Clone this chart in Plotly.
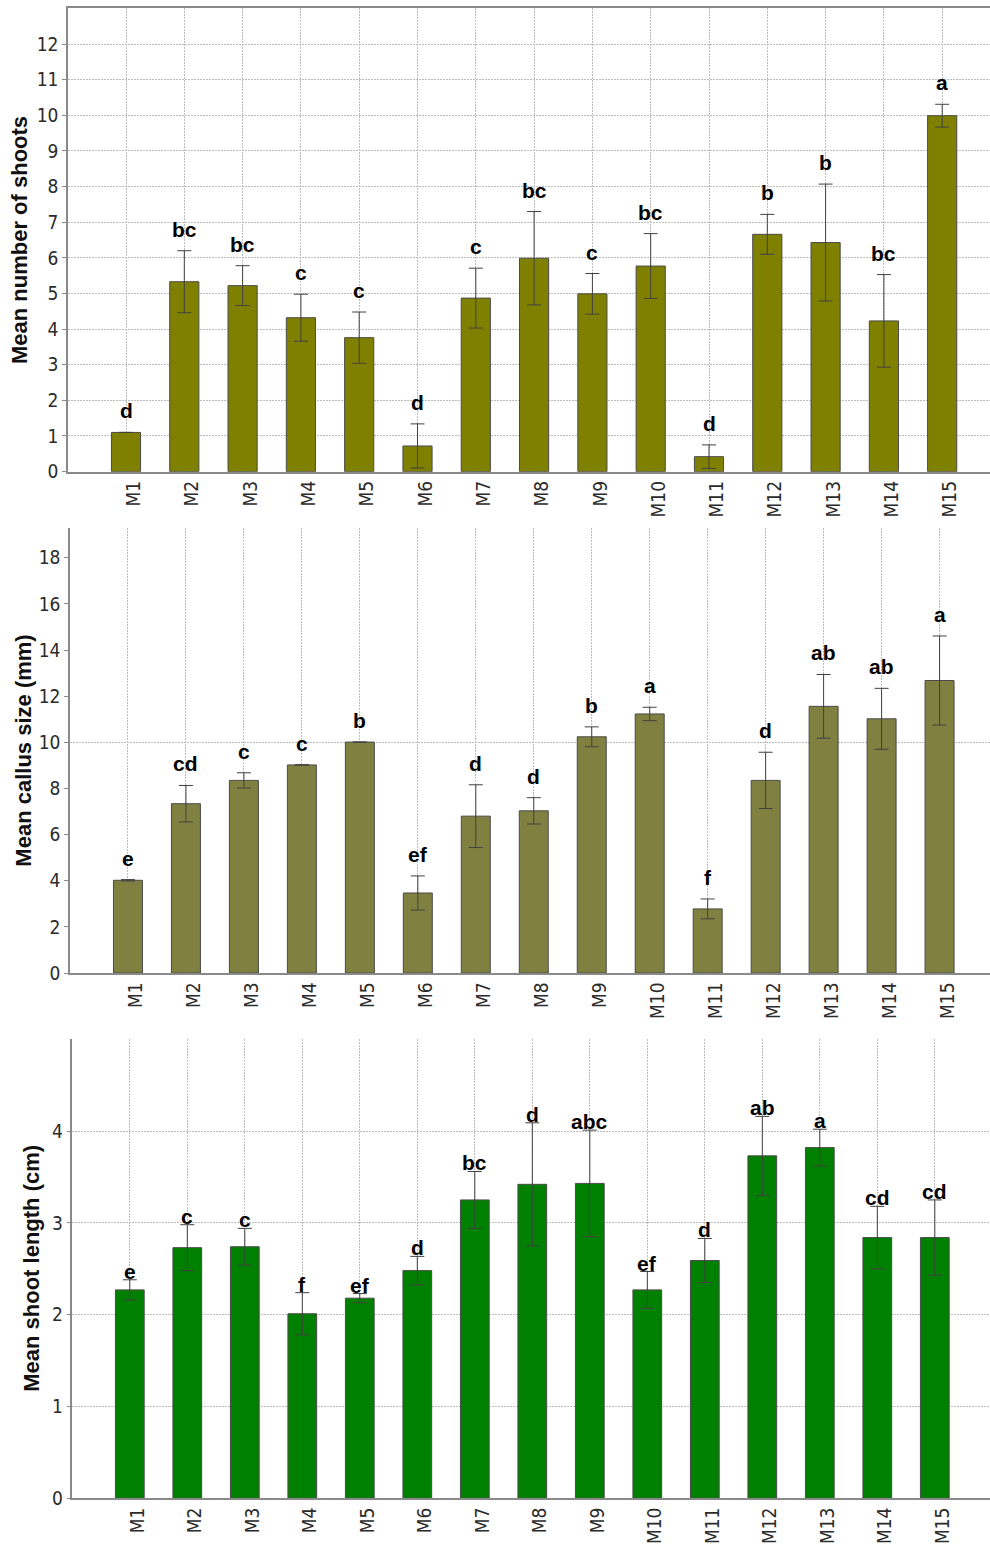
import plotly.graph_objects as go

# Treatments
categories = ["M1", "M2", "M3", "M4", "M5", "M6", "M7", "M8",
              "M9", "M10", "M11", "M12", "M13", "M14", "M15"]

# Mean number of shoots (± error) with significance letters
shoots_mean = [1.10, 5.33, 5.22, 4.32, 3.76, 0.72, 4.87, 5.99,
               4.99, 5.77, 0.42, 6.66, 6.43, 4.23, 9.99]
shoots_err = [0.00, 0.87, 0.56, 0.66, 0.72, 0.62, 0.84, 1.31,
              0.57, 0.91, 0.33, 0.56, 1.64, 1.30, 0.32]
shoots_letters = ["d", "bc", "bc", "c", "c", "d", "c", "bc",
                  "c", "bc", "d", "b", "b", "bc", "a"]

# Mean callus size in mm
callus_mean = [4.02, 7.34, 8.35, 9.02, 10.01, 3.47, 6.80, 7.03,
               10.24, 11.23, 2.78, 8.35, 11.56, 11.02, 12.68]
callus_err = [0.03, 0.79, 0.33, 0.00, 0.00, 0.74, 1.36, 0.57,
              0.43, 0.29, 0.43, 1.22, 1.38, 1.32, 1.93]
callus_letters = ["e", "cd", "c", "c", "b", "ef", "d", "d",
                  "b", "a", "f", "d", "ab", "ab", "a"]

# Mean shoot length in cm
length_mean = [2.27, 2.73, 2.74, 2.01, 2.18, 2.48, 3.25, 3.42,
               3.43, 2.27, 2.59, 3.73, 3.82, 2.84, 2.84]
length_err = [0.11, 0.25, 0.20, 0.23, 0.05, 0.155, 0.31, 0.67,
              0.58, 0.20, 0.24, 0.43, 0.20, 0.34, 0.41]
length_letters = ["e", "c", "c", "f", "ef", "d", "bc", "d",
                  "abc", "ef", "d", "ab", "a", "cd", "cd"]

W, H = 990, 1549

panels = [
    dict(mean=shoots_mean, err=shoots_err, letters=shoots_letters,
         color="#808000", title="Mean number of shoots",
         left=68, top=8.5, bottom=475, xrange=[-0.995, 14.82],
         yrange=[0, 13], tickvals=list(range(0, 13)), grid=None,
         title_x=19, letter_shift=8, box=True),
    dict(mean=callus_mean, err=callus_err, letters=callus_letters,
         color="#808040", title="Mean callus size (mm)",
         left=70, top=532, bottom=980, xrange=[-1.0, 14.87],
         yrange=[0, 19.28], tickvals=list(range(0, 19, 2)), grid=[10],
         title_x=24, letter_shift=8, box=False),
    dict(mean=length_mean, err=length_err, letters=length_letters,
         color="#008000", title="Mean shoot length (cm)",
         left=72.3, top=1046.7, bottom=1509, xrange=[-1.0, 14.96],
         yrange=[0, 5], tickvals=[0, 1, 2, 3, 4], grid=None,
         title_x=32, letter_shift=-5, box=False),
]

GRID = "#bdbdbd"
GRID_DASH = "2px,1px"
AXIS = "#8a8a8a"
TICK_FONT = dict(family="DejaVu Sans Condensed, DejaVu Sans", size=19, color="#2b2b2b")
LETTER_FONT = dict(family="Liberation Sans, Arial", size=21, color="#000000", weight="bold")
TITLE_FONT = dict(family="Liberation Sans, Arial", size=22, color="#111111", weight="bold")

fig = go.Figure()
layout = dict(width=W, height=H, margin=dict(l=0, r=0, t=0, b=0),
              plot_bgcolor="white", paper_bgcolor="white", showlegend=False)
annotations = []

for i, p in enumerate(panels, start=1):
    sx = "" if i == 1 else str(i)
    fig.add_trace(go.Bar(
        x=categories, y=p["mean"], width=0.5,
        marker=dict(color=p["color"], line=dict(color="#4a4a4a", width=1)),
        error_y=dict(type="data", array=p["err"], visible=True,
                     color="#404040", thickness=1, width=7),
        xaxis="x" + sx, yaxis="y" + sx,
    ))
    ydom = [(H - p["bottom"]) / H, (H - p["top"]) / H]
    xdom = [p["left"] / W, 1.0]
    layout["xaxis" + sx] = dict(
        domain=xdom, anchor="y" + sx, type="category",
        categoryorder="array", categoryarray=categories,
        range=p["xrange"], showgrid=True, gridcolor=GRID, griddash=GRID_DASH,
        gridwidth=1, showline=True, linecolor=AXIS, linewidth=1.5,
        mirror=p["box"], ticks="", tickangle=-90, tickfont=TICK_FONT,
        ticklabelshift=8, fixedrange=True,
    )
    ycfg = dict(
        domain=ydom, anchor="x" + sx, range=p["yrange"],
        tickmode="array", tickvals=p["tickvals"], tickfont=TICK_FONT,
        ticks="outside", ticklen=4, tickcolor=AXIS, showline=True,
        linecolor=AXIS, linewidth=1.5, zeroline=False, fixedrange=True,
    )
    if p["grid"] is None:
        ycfg.update(showgrid=True, gridcolor=GRID, griddash=GRID_DASH, gridwidth=1)
    else:
        ycfg.update(showgrid=False,
                    minor=dict(tickmode="array", tickvals=p["grid"], showgrid=True,
                               gridcolor=GRID, griddash=GRID_DASH, gridwidth=1,
                               ticks="", ticklen=0))
    layout["yaxis" + sx] = ycfg

    # significance letters above each error bar
    for c, m, e, t in zip(categories, p["mean"], p["err"], p["letters"]):
        annotations.append(dict(
            x=c, y=m + e, xref="x" + sx, yref="y" + sx, text=t,
            showarrow=False, yanchor="bottom", yshift=p["letter_shift"],
            font=LETTER_FONT,
        ))

    # y-axis title
    annotations.append(dict(
        x=p["title_x"] / W, y=(H - (p["top"] + p["bottom"]) / 2) / H,
        xref="paper", yref="paper", text=p["title"], textangle=-90,
        showarrow=False, xanchor="center", yanchor="middle", font=TITLE_FONT,
    ))

layout["annotations"] = annotations
fig.update_layout(**layout)
fig.write_html("out.html")
